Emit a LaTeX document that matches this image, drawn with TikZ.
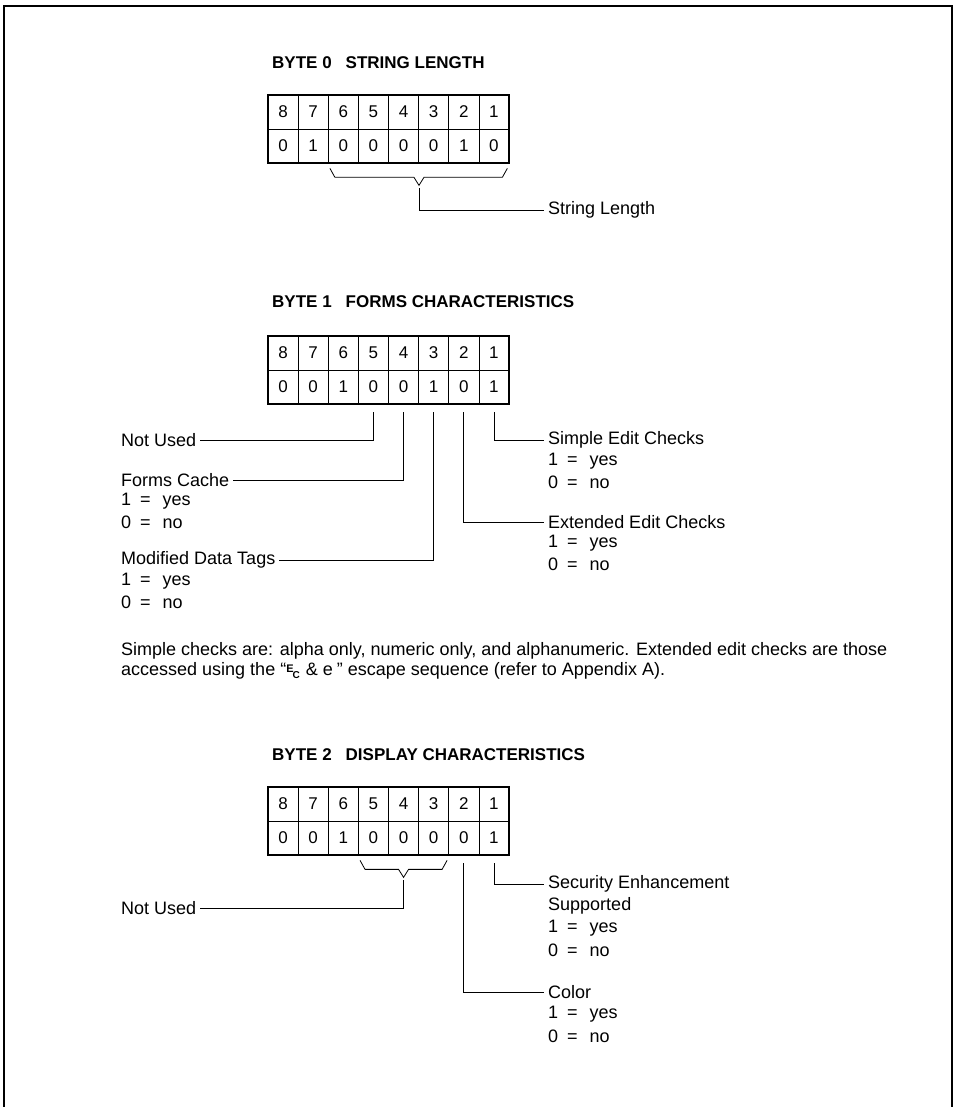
\documentclass[tikz,border=0pt]{standalone}
\usepackage{fontspec}
\setmainfont{Liberation Sans}
\usetikzlibrary{calc}

\tikzset{
  cell/.style={draw, line width=0.7pt, minimum width=30.125pt, minimum height=34pt, inner sep=0pt, font=\fontsize{17}{17}\selectfont},
  outer/.style={line width=2.2pt},
  lead/.style={line width=0.8pt},
  lbl/.style={anchor=west, inner xsep=4pt, inner ysep=0pt, font=\fontsize{18}{18}\selectfont},
  title/.style={anchor=west, inner sep=0pt, font=\fontsize{17}{17}\selectfont\bfseries},
}

\begin{document}
\begin{tikzpicture}[x=1pt, y=-1pt]
  \useasboundingbox (0,0) rectangle (956,1107);
  \draw[line width=1.4pt] (4,1107) -- (4,6) -- (952,6) -- (952,1107);

  % byte 0
  \node[title] (t0) at (272,63) {BYTE 0\hspace{14pt}STRING LENGTH};
  \foreach \b/\v [count=\k from 0] in {8/0,7/1,6/0,5/0,4/0,3/0,2/1,1/0} {
    \node[cell] (a\b) at ({283.06+30.125*\k},112) {\b};
    \node[cell] (av\b) at ({283.06+30.125*\k},146) {\v};
  }
  \draw[outer] (a8.north west) rectangle (av1.south east);
  \draw[lead] ([shift={(2,5)}]av6.south west) -- ++(5,9)
    -- ([shift={(-5,14)}]av4.south east) -- ([shift={(0,22)}]av4.south east) coordinate (v0)
    -- ([shift={(5,14)}]av4.south east) -- ([shift={(-7,14)}]av1.south east)
    -- ([shift={(-2,5)}]av1.south east);
  \node[lbl] (sl) at (544,210) {String Length};
  \draw[lead] ([yshift=-3pt]v0) |- (sl.west);

  % byte 1
  \node[title] (t1) at (272,302) {BYTE 1\hspace{14pt}FORMS CHARACTERISTICS};
  \foreach \b/\v [count=\k from 0] in {8/0,7/0,6/1,5/0,4/0,3/1,2/0,1/1} {
    \node[cell] (b\b) at ({283.06+30.125*\k},353) {\b};
    \node[cell] (bv\b) at ({283.06+30.125*\k},387) {\v};
  }
  \draw[outer] (b8.north west) rectangle (bv1.south east);

  \node[lbl] (nu1) at (117,440) {Not Used};
  \node[lbl] (fc) at (117,480) {Forms Cache};
  \node[lbl] (fcy) at (117,501) {1\hspace{9pt}=\hspace{12pt}yes};
  \node[lbl] (fcn) at (117,522) {0\hspace{9pt}=\hspace{12pt}no};
  \node[lbl] (md) at (117,560) {Modified Data Tags};
  \node[lbl] (mdy) at (117,581) {1\hspace{9pt}=\hspace{12pt}yes};
  \node[lbl] (mdn) at (117,602) {0\hspace{9pt}=\hspace{12pt}no};
  \node[lbl] (se) at (544,440) {Simple Edit Checks};
  \node[lbl] (sey) at (544,461) {1\hspace{9pt}=\hspace{12pt}yes};
  \node[lbl] (sen) at (544,482) {0\hspace{9pt}=\hspace{12pt}no};
  \node[lbl] (ee) at (544,522) {Extended Edit Checks};
  \node[lbl] (eey) at (544,543) {1\hspace{9pt}=\hspace{12pt}yes};
  \node[lbl] (een) at (544,564) {0\hspace{9pt}=\hspace{12pt}no};

  \draw[lead] ([yshift=-8pt]bv5.south) |- (nu1.east);
  \draw[lead] ([yshift=-8pt]bv4.south) |- (fc.east);
  \draw[lead] ([yshift=-8pt]bv3.south) |- (md.east);
  \draw[lead] ([yshift=-8pt]bv2.south) |- (ee.west);
  \draw[lead] ([yshift=-8pt]bv1.south) |- (se.west);

  \node[lbl] (p1) at (117,651) {Simple checks are: alpha only, numeric only, and alphanumeric. Extended edit checks are those};
  \node[lbl] (p2) at (117,671) {accessed using the ``\raisebox{0.35ex}{\fontsize{11}{11}\selectfont\bfseries E}\kern-1pt\raisebox{-0.25ex}{\fontsize{10}{10}\selectfont\bfseries C}\hspace{6pt}\&\ e\hspace{4pt}'' escape sequence (refer to Appendix A).};

  % byte 2
  \node[title] (t2) at (272,755) {BYTE 2\hspace{14pt}DISPLAY CHARACTERISTICS};
  \foreach \b/\v [count=\k from 0] in {8/0,7/0,6/1,5/0,4/0,3/0,2/0,1/1} {
    \node[cell] (c\b) at ({283.06+30.125*\k},804) {\b};
    \node[cell] (cv\b) at ({283.06+30.125*\k},838) {\v};
  }
  \draw[outer] (c8.north west) rectangle (cv1.south east);
  \draw[lead] ([shift={(2,5)}]cv5.south west) -- ++(5,9)
    -- ([shift={(-5,14)}]cv4.south) -- ([shift={(0,22)}]cv4.south) coordinate (v2)
    -- ([shift={(5,14)}]cv4.south) -- ([shift={(-7,14)}]cv3.south east)
    -- ([shift={(-2,5)}]cv3.south east);

  \node[lbl] (nu2) at (117,908) {Not Used};
  \node[lbl] (sc) at (544,884) {Security Enhancement};
  \node[lbl] (scs) at (544,906) {Supported};
  \node[lbl] (scy) at (544,928) {1\hspace{9pt}=\hspace{12pt}yes};
  \node[lbl] (scn) at (544,950) {0\hspace{9pt}=\hspace{12pt}no};
  \node[lbl] (co) at (544,992) {Color};
  \node[lbl] (coy) at (544,1014) {1\hspace{9pt}=\hspace{12pt}yes};
  \node[lbl] (con) at (544,1036) {0\hspace{9pt}=\hspace{12pt}no};

  \draw[lead] ([yshift=-3pt]v2) |- (nu2.east);
  \draw[lead] ([yshift=-8pt]cv2.south) |- (co.west);
  \draw[lead] ([yshift=-8pt]cv1.south) |- (sc.west);
\end{tikzpicture}
\end{document}
